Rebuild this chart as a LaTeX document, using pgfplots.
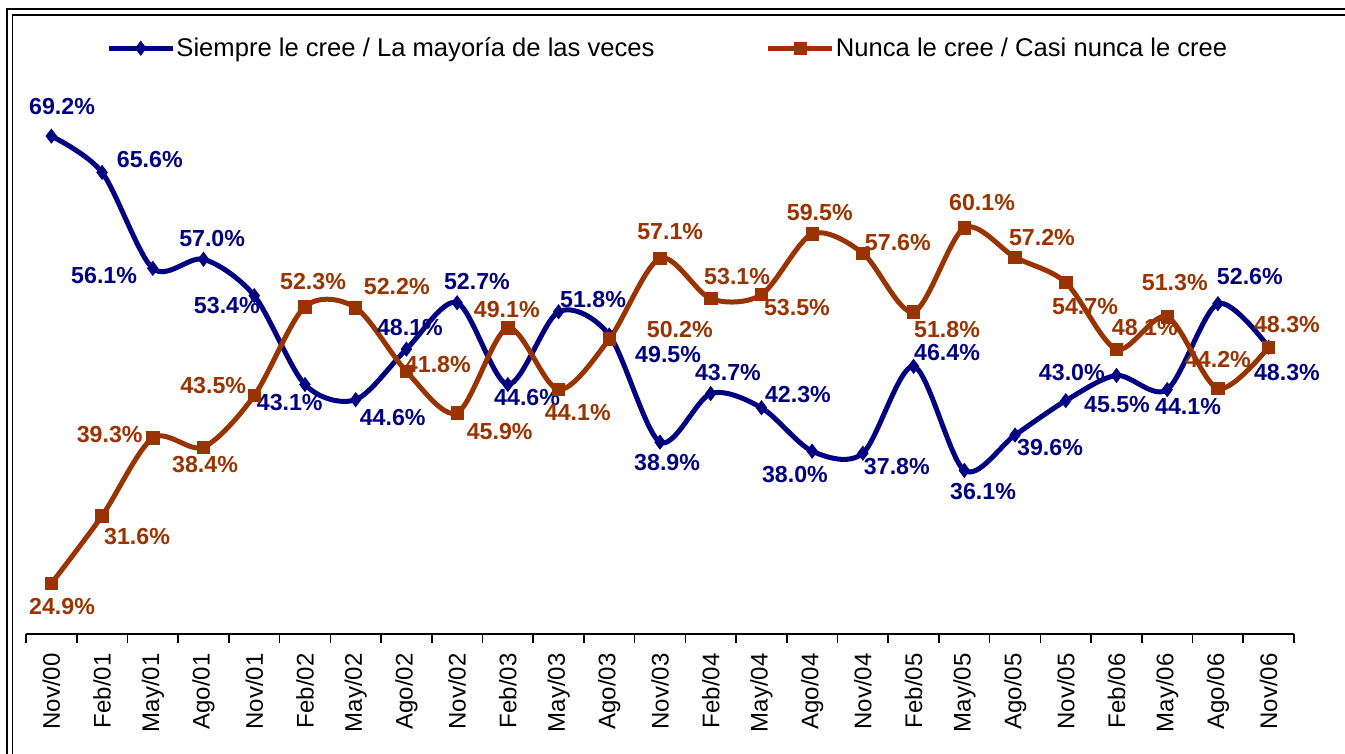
\documentclass[border=0pt]{standalone}
\usepackage{fontspec}
\setmainfont{Liberation Sans}
\usepackage{pgfplots}
\pgfplotsset{compat=1.18}
\definecolor{navy}{RGB}{0,0,128}
\definecolor{rust}{RGB}{153,51,0}
\tikzset{
  bl/.style={text=navy, font=\bfseries\fontsize{11.6}{13}\selectfont, inner sep=0pt},
  og/.style={text=rust, font=\bfseries\fontsize{11.6}{13}\selectfont, inner sep=0pt},
}
\begin{document}
\begin{tikzpicture}
\useasboundingbox (0,0) rectangle (672.5pt,377pt);
% double frame, left and top
\draw[line width=1.2pt] (3.5pt,0) |- (673pt,372.5pt);
\draw[line width=0.6pt] (6.25pt,0) |- (673pt,369.5pt);
\begin{axis}[
  at={(13pt,60pt)}, anchor=south west,
  scale only axis, width=634pt, height=303.5pt,
  xmin=-0.5, xmax=24.5, ymin=19.9, ymax=80,
  axis x line*=bottom, axis y line=none,
  axis line style={-, line width=0.8pt},
  xtick={0,...,24},
  xticklabels={Nov/00,Feb/01,May/01,Ago/01,Nov/01,Feb/02,May/02,Ago/02,Nov/02,Feb/03,May/03,Ago/03,Nov/03,Feb/04,May/04,Ago/04,Nov/04,Feb/05,May/05,Ago/05,Nov/05,Feb/06,May/06,Ago/06,Nov/06},
  major tick length=0pt,
  minor xtick={-0.5,0.5,...,24.5},
  minor tick length=4.5pt,
  tick align=outside,
  tick style={black, line width=0.8pt},
  xticklabel style={rotate=90, anchor=east, inner sep=0pt, font=\fontsize{12}{14}\selectfont},
  xticklabel shift=9.5pt,
  clip=false,
  legend columns=2,
  legend style={at={(0.063,0.965)}, anchor=west, draw=none, fill=none,
    font=\fontsize{12.8}{15}\selectfont, inner sep=0pt, nodes={inner sep=0.6pt},
    /tikz/every even column/.append style={column sep=55pt}},
  legend image code/.code={\draw[mark repeat=2,mark phase=2,#1] plot coordinates {(0pt,0pt) (16pt,0pt) (32pt,0pt)};},
]
\addplot[navy, line width=2.5pt, smooth, mark=diamond*, mark size=3.5pt, mark options={line width=0.4pt, solid}]
coordinates {
(0,69.2)(1,65.6)(2,56.1)(3,57.0)(4,53.4)(5,44.6)(6,43.1)(7,48.1)(8,52.7)(9,44.6)(10,51.8)(11,49.5)(12,38.9)
(13,43.7)(14,42.3)(15,38.0)(16,37.8)(17,46.4)(18,36.1)(19,39.6)(20,43.0)(21,45.5)(22,44.1)(23,52.6)(24,48.3)
};
\addlegendentry{Siempre le cree / La mayoría de las veces}
\addplot[rust, line width=2.5pt, smooth, mark=square*, mark size=3.1pt, mark options={line width=0.4pt, solid}]
coordinates {
(0,24.9)(1,31.6)(2,39.3)(3,38.4)(4,43.5)(5,52.3)(6,52.2)(7,45.9)(8,41.8)(9,50.2)(10,44.1)(11,49.1)(12,57.1)
(13,53.1)(14,53.5)(15,59.5)(16,57.6)(17,51.8)(18,60.1)(19,57.2)(20,54.7)(21,48.1)(22,51.3)(23,44.2)(24,48.3)
};
\addlegendentry{Nunca le cree / Casi nunca le cree}

% data labels, blue series
\node[bl] at (axis cs:0.21,72.08) {69.2\%};
\node[bl] at (axis cs:1.94,66.83) {65.6\%};
\node[bl] at (axis cs:1.04,55.35) {56.1\%};
\node[bl] at (axis cs:3.17,59.01) {57.0\%};
\node[bl] at (axis cs:3.46,52.38) {53.4\%};
\node[bl] at (axis cs:4.70,42.77) {43.1\%};
\node[bl] at (axis cs:6.73,41.29) {44.6\%};
\node[bl] at (axis cs:7.07,50.20) {48.1\%};
\node[bl] at (axis cs:8.39,54.75) {52.7\%};
\node[bl] at (axis cs:9.38,43.27) {44.6\%};
\node[bl] at (axis cs:10.68,52.97) {51.8\%};
\node[bl] at (axis cs:12.16,47.53) {49.5\%};
\node[bl] at (axis cs:12.14,36.84) {38.9\%};
\node[bl] at (axis cs:13.34,45.74) {43.7\%};
\node[bl] at (axis cs:14.72,43.57) {42.3\%};
\node[bl] at (axis cs:14.66,35.65) {38.0\%};
\node[bl] at (axis cs:16.67,36.44) {37.8\%};
\node[bl] at (axis cs:17.66,47.73) {46.4\%};
\node[bl] at (axis cs:18.37,33.96) {36.1\%};
\node[bl] at (axis cs:19.69,38.32) {39.6\%};
\node[bl] at (axis cs:20.12,45.74) {43.0\%};
\node[bl] at (axis cs:21.01,42.58) {45.5\%};
\node[bl] at (axis cs:22.41,42.38) {44.1\%};
\node[bl] at (axis cs:23.63,55.25) {52.6\%};
\node[bl] at (axis cs:24.36,45.74) {48.3\%};
% data labels, orange series
\node[og] at (axis cs:0.21,22.58) {24.9\%};
\node[og] at (axis cs:1.69,29.51) {31.6\%};
\node[og] at (axis cs:1.15,39.60) {39.3\%};
\node[og] at (axis cs:3.03,36.64) {38.4\%};
\node[og] at (axis cs:3.19,44.46) {43.5\%};
\node[og] at (axis cs:5.16,54.75) {52.3\%};
\node[og] at (axis cs:6.81,54.26) {52.2\%};
\node[og] at (axis cs:7.62,46.54) {41.8\%};
\node[og] at (axis cs:8.84,39.90) {45.9\%};
\node[og] at (axis cs:8.98,51.98) {49.1\%};
\node[og] at (axis cs:10.38,41.78) {44.1\%};
\node[og] at (axis cs:12.20,59.70) {57.1\%};
\node[og] at (axis cs:12.39,50.00) {50.2\%};
\node[og] at (axis cs:13.52,55.25) {53.1\%};
\node[og] at (axis cs:14.70,52.18) {53.5\%};
\node[og] at (axis cs:15.15,61.68) {59.5\%};
\node[og] at (axis cs:16.69,58.71) {57.6\%};
\node[og] at (axis cs:17.66,50.00) {51.8\%};
\node[og] at (axis cs:18.35,62.58) {60.1\%};
\node[og] at (axis cs:19.53,59.11) {57.2\%};
\node[og] at (axis cs:20.38,52.28) {54.7\%};
\node[og] at (axis cs:21.56,50.20) {48.1\%};
\node[og] at (axis cs:22.15,54.65) {51.3\%};
\node[og] at (axis cs:23.00,47.03) {44.2\%};
\node[og] at (axis cs:24.36,50.50) {48.3\%};
\end{axis}
\end{tikzpicture}
\end{document}
